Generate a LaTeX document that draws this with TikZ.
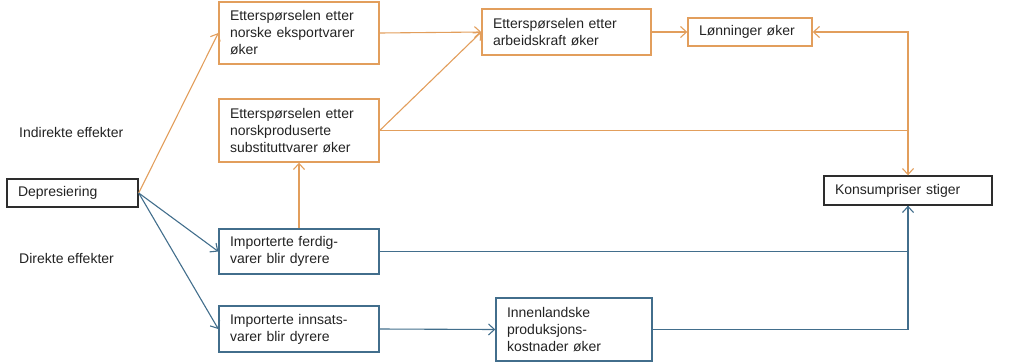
\documentclass[tikz,border=0pt]{standalone}
\usepackage{fontspec}
\setmainfont{Liberation Sans}
\usetikzlibrary{arrows.meta}
\definecolor{orangeline}{RGB}{226,158,92}
\definecolor{blueline}{RGB}{66,110,140}
\definecolor{boxblack}{RGB}{45,45,45}
\definecolor{textgray}{RGB}{35,35,35}
\tikzset{
  effbox/.style={draw, rectangle, align=left, inner xsep=11pt, inner ysep=0pt,
    line width=1.4pt, text=textgray, font=\fontsize{14}{17}\selectfont},
  orangebox/.style={effbox, draw=orangeline},
  bluebox/.style={effbox, draw=blueline},
  blackbox/.style={effbox, draw=boxblack},
  tipto/.style={-{Straight Barb[length=6pt,width=11pt]}},
  orangeflow/.style={draw=orangeline, line width=1.1pt},
  blueflow/.style={draw=blueline, line width=1.1pt},
  sidelabel/.style={anchor=west, inner sep=0pt, text=textgray, font=\fontsize{14}{17}\selectfont}
}
\begin{document}
\begin{tikzpicture}[x=1pt, y=-1pt]
    \useasboundingbox (0,0) rectangle (1011,362);

      % Start
      \node[blackbox, text width=109pt, minimum height=28pt] (dep) at (72.5,193) {Depresiering};
      \node[sidelabel] (indir) at (19,132) {Indirekte effekter};
      \node[sidelabel] (dir) at (19,258) {Direkte effekter};

      % Indirect effects
      \node[orangebox, text width=138pt, minimum height=62pt] (eksport) at (299,33) {Etterspørselen etter\\norske eksportvarer\\øker};
      \node[orangebox, text width=138pt, minimum height=63pt] (subst) at (299,130.5) {Etterspørselen etter\\norskproduserte\\substituttvarer øker};
      \node[orangebox, text width=147pt, minimum height=46pt] (arbeid) at (566.5,32) {Etterspørselen etter\\arbeidskraft øker};
      \node[orangebox, text width=102pt, minimum height=28pt] (lonn) at (750,32) {Lønninger øker};

      % Direct effects
      \node[bluebox, text width=138pt, minimum height=45pt] (ferdig) at (299,251.5) {Importerte ferdig-\\varer blir dyrere};
      \node[bluebox, text width=138pt, minimum height=46pt] (innsats) at (299,329) {Importerte innsats-\\varer blir dyrere};
      \node[bluebox, text width=134pt, minimum height=63pt] (kostnad) at (574,329.5) {Innenlandske\\produksjons-\\kostnader øker};

      % End
      \node[blackbox, text width=146pt, minimum height=29pt] (konsum) at (908,190.5) {Konsumpriser stiger};

      \coordinate (jtop) at (lonn.east -| konsum.north);
      \coordinate (jsubst) at (subst.east -| konsum.north);

      % Orange arrows
      \draw[orangeflow, tipto] (dep.east) -- (eksport.west);
      \draw[orangeflow, tipto] (eksport.east) -- (arbeid.west);
      \draw[orangeflow, tipto] (subst.east) -- (arbeid.west);
      \draw[orangeflow, tipto] (arbeid.east) -- (lonn.west);
      \draw[orangeflow, tipto] (ferdig.north) -- (subst.south);
      \draw[orangeflow] (subst.east) -- (jsubst);
      \draw[orangeflow, tipto] (jsubst) -- (jtop) -- (lonn.east);
      \draw[orangeflow, tipto] (jtop) -- (konsum.north);

      % Blue arrows
      \draw[blueflow, tipto] (dep.east) -- (ferdig.west);
      \draw[blueflow, tipto] (dep.east) -- (innsats.west);
      \draw[blueflow, tipto] (innsats.east) -- (kostnad.west);
      \draw[blueflow, tipto] (ferdig.east) -| (konsum.south);
      \draw[blueflow] (kostnad.east) -| (konsum.south);

\end{tikzpicture}
\end{document}
